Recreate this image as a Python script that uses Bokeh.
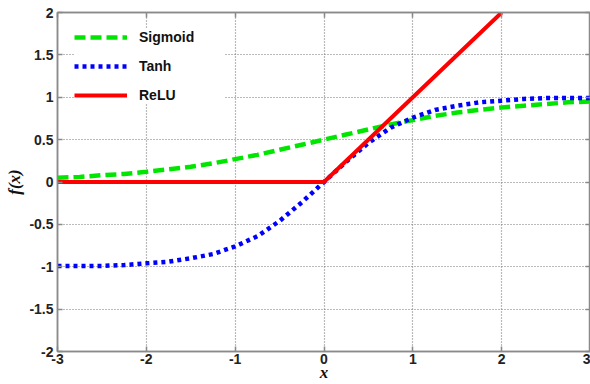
from bokeh.plotting import figure
from bokeh.models import FixedTicker, LinearAxis, Legend, LegendItem, Range1d
from bokeh.embed import file_html
from bokeh.resources import INLINE

# data
x_s = [-3, -2.75, -2.5, -2.25, -2, -1.75, -1.5, -1.25, -1, -0.75, -0.5, -0.25, 0,
       0.25, 0.5, 0.75, 1, 1.25, 1.5, 1.75, 2, 2.25, 2.5, 2.75, 3]
sigmoid = [0.05, 0.06, 0.08, 0.095, 0.12, 0.15, 0.18, 0.22, 0.27, 0.32, 0.38, 0.44, 0.5,
           0.56, 0.62, 0.68, 0.73, 0.78, 0.82, 0.85, 0.88, 0.9, 0.92, 0.94, 0.95]
tanh = [-0.99, -0.99, -0.99, -0.98, -0.96, -0.94, -0.9, -0.85, -0.76, -0.64, -0.46, -0.24, 0,
        0.24, 0.46, 0.64, 0.76, 0.85, 0.9, 0.94, 0.96, 0.98, 0.99, 0.99, 0.99]
x_r = [-3, 0, 2]
relu = [0, 0, 2]

x_ticks = [-3, -2, -1, 0, 1, 2, 3]
x_labels = ["-3", "-2", "-1", "0", "1", "2", "3"]
y_ticks = [-2, -1.5, -1, -0.5, 0, 0.5, 1, 1.5, 2]
y_labels = ["-2", "-1.5", "-1", "-0.5", "0", "0.5", "1", "1.5", "2"]

p = figure(width=590, height=384, output_backend="svg", toolbar_location=None,
           x_range=Range1d(-3, 3), y_range=Range1d(-2, 2),
           min_border_left=57, min_border_right=0, min_border_top=12, min_border_bottom=0)
p.background_fill_color = "white"
p.border_fill_color = "white"
p.outline_line_color = "#8a8a8a"
p.outline_line_width = 1.5

sig_r = p.line(x_s, sigmoid, line_color="#00e600", line_width=4.5, line_dash="11 5")
tanh_r = p.line(x_s, tanh, line_color="#0000ff", line_width=4.5, line_dash="4 4")
relu_r = p.line(x_r, relu, line_color="#ff0000", line_width=4)

font = "Liberation Sans"
for ax in [p.xaxis[0], p.yaxis[0]]:
    ax.axis_line_color = "#8a8a8a"
    ax.axis_line_width = 1.5
    ax.major_tick_in = 5
    ax.major_tick_out = 0
    ax.major_tick_line_color = "#8a8a8a"
    ax.major_tick_line_width = 1.5
    ax.minor_tick_line_color = None
    ax.major_label_text_font = font
    ax.major_label_text_font_style = "bold"
    ax.major_label_text_font_size = "14px"
    ax.major_label_text_color = "#222222"
    ax.axis_label_text_font = "Liberation Serif"
    ax.axis_label_text_font_style = "bold italic"
    ax.axis_label_text_font_size = "17px"
    ax.axis_label_text_color = "#111111"

p.xaxis.ticker = FixedTicker(ticks=x_ticks)
p.xaxis.major_label_overrides = dict(zip(x_ticks, x_labels))
p.yaxis.ticker = FixedTicker(ticks=y_ticks)
p.yaxis.major_label_overrides = dict(zip(y_ticks, y_labels))
p.xaxis.axis_label = "x"
p.yaxis.axis_label = "f(x)"
p.xaxis.major_label_standoff = 2
p.xaxis.axis_label_standoff = -4
p.yaxis.major_label_standoff = 4
p.yaxis.axis_label_standoff = 2

# top and right axes with ticks only
for loc in ["above", "right"]:
    ax = LinearAxis(ticker=FixedTicker(ticks=x_ticks if loc == "above" else y_ticks))
    ax.major_label_text_font_size = "0px"
    ax.major_label_text_color = None
    ax.axis_line_color = "#8a8a8a"
    ax.axis_line_width = 1.5
    ax.major_tick_in = 5
    ax.major_tick_out = 0
    ax.major_tick_line_color = "#8a8a8a"
    ax.major_tick_line_width = 1.5
    ax.minor_tick_line_color = None
    ax.major_label_standoff = 0
    p.add_layout(ax, loc)

p.xgrid.ticker = FixedTicker(ticks=x_ticks)
p.ygrid.ticker = FixedTicker(ticks=y_ticks)
for g in [p.xgrid[0], p.ygrid[0]]:
    g.grid_line_color = "#777777"
    g.grid_line_dash = "1 2"
    g.grid_line_width = 1.2

legend = Legend(items=[LegendItem(label="Sigmoid", renderers=[sig_r]),
                       LegendItem(label="Tanh", renderers=[tanh_r]),
                       LegendItem(label="ReLU", renderers=[relu_r])],
                location="top_left")
legend.border_line_color = None
legend.background_fill_color = "white"
legend.background_fill_alpha = 1
legend.glyph_width = 53
legend.glyph_height = 14
legend.label_width = 86
legend.label_text_font = font
legend.label_text_font_style = "bold"
legend.label_text_font_size = "14px"
legend.label_text_color = "#111111"
legend.spacing = 13
legend.margin = 17
legend.padding = 9
legend.label_standoff = 12
p.add_layout(legend)

open("out.html", "w").write(file_html(p, INLINE))
